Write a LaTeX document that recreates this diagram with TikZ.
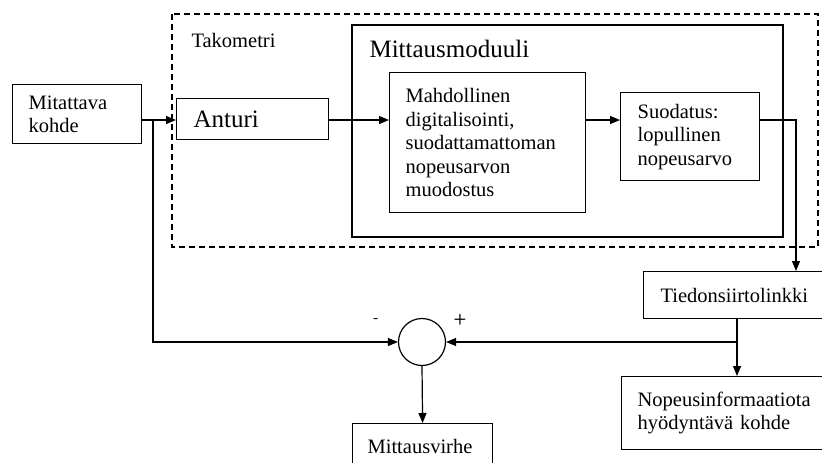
\documentclass[tikz,border=0pt]{standalone}
\usepackage{fontspec}
\setmainfont{Liberation Serif}
\usetikzlibrary{arrows.meta}

\newcommand{\perusfontti}{\fontsize{20.5}{23.5}\selectfont}
\newcommand{\isofontti}{\fontsize{25}{28}\selectfont}

\tikzset{
    lohko/.style={draw, line width=1.2pt, anchor=north west, align=left,
        inner xsep=16pt, inner ysep=0pt, font=\perusfontti},
    nuoli/.style={line width=1.2pt, -{Triangle[length=10pt,width=8pt]}},
    viiva/.style={line width=1.2pt},
    merkki/.style={font=\sffamily\bfseries\fontsize{15}{15}\selectfont},
}

\begin{document}
\begin{tikzpicture}[x=1pt, y=-1pt]
            \useasboundingbox (0,0) rectangle (822,463);
            \clip (0,0) rectangle (822,463);
            % takometri ja mittausmoduuli
            \draw[viiva, dash pattern=on 6pt off 4pt] (172,14) rectangle (818,247);
            \node[anchor=base west, font=\perusfontti] (tako) at (188,47) {Takometri};
            \draw[viiva] (352,25) rectangle (783,237);
            \node[anchor=base west, font=\isofontti] (moduuli) at (366,57) {Mittausmoduuli};
            % lohkot
            \node[lohko, text width=97pt, minimum height=59pt] (mitattava) at (12,84) {Mitattava\\kohde};
            \node[lohko, inner xsep=17pt, text width=118pt, minimum height=41pt, font=\isofontti] (anturi) at (176,98) {Anturi};
            \node[lohko, text width=164pt, minimum height=140pt] (mahd) at (389,72) {Mahdollinen\\digitalisointi,\\suodattamattoman\\nopeusarvon\\muodostus};
            \node[lohko, inner xsep=17pt, text width=105pt, minimum height=88pt] (suodatus) at (620,92) {Suodatus:\\lopullinen\\nopeusarvo};
            \node[lohko, inner xsep=17pt, text width=154pt, minimum height=47pt] (linkki) at (643,271) {Tiedonsiirtolinkki};
            \node[lohko, text width=180pt, minimum height=73pt] (kohde) at (621,376) {Nopeusinformaatiota\\hyödyntävä kohde};
            \node[lohko, inner xsep=15pt, text width=110pt, minimum height=46pt] (virhe) at (352,423) {Mittausvirhe};
            \node[circle, draw, line width=1.2pt, minimum size=47pt, inner sep=0pt] (summa) at (422,342) {};
            \node[merkki] at ([shift={(-46,-21)}]summa.center) {-};
            \node[merkki] at ([shift={(38,-22)}]summa.center) {+};
            % yhteydet
            \coordinate (haara) at (153,120);
            \coordinate (linkkiin) at (796,271);
            \draw[nuoli] (mitattava.east |- haara) -- (anturi.west |- haara);
            \draw[nuoli] (haara) |- (summa.west);
            \draw[nuoli] (anturi.east |- haara) -- (mahd.west |- haara);
            \draw[nuoli] (mahd.east |- haara) -- (suodatus.west |- haara);
            \draw[nuoli] (suodatus.east |- haara) -| (linkkiin);
            \draw[nuoli] (737,318) -- (737,376);
            \draw[nuoli] (737,342) -- (summa.east);
            \draw[nuoli] (summa.south) -- (virhe.north);
        \end{tikzpicture}
\end{document}
